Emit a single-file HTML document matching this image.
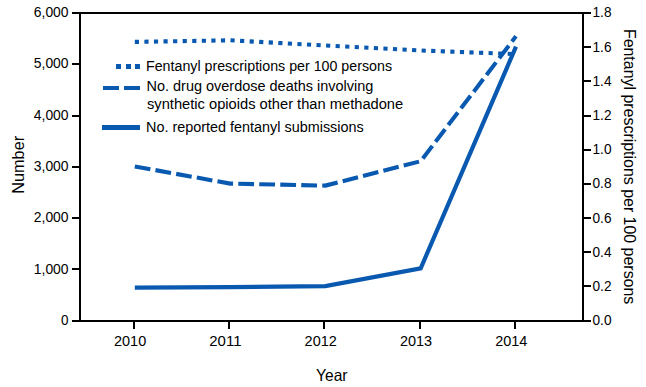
<!DOCTYPE html><html><head><meta charset="utf-8"><style>html,body{margin:0;padding:0;background:#fff;width:646px;height:387px;overflow:hidden}svg{display:block}text{font-family:"Liberation Sans",sans-serif;fill:#000}</style></head><body>
<svg width="646" height="387" viewBox="0 0 646 387">
<g fill="#000">
<rect x="72" y="12" width="519" height="2"/>
<rect x="72" y="320" width="519" height="2"/>
<rect x="79" y="12" width="2" height="310"/>
<rect x="582" y="12" width="2" height="310"/>
<rect x="72" y="320" width="7" height="2"/>
<rect x="72" y="268" width="7" height="2"/>
<rect x="72" y="217" width="7" height="2"/>
<rect x="72" y="166" width="7" height="2"/>
<rect x="72" y="115" width="7" height="2"/>
<rect x="72" y="63" width="7" height="2"/>
<rect x="72" y="12" width="7" height="2"/>
<rect x="584" y="320" width="7" height="2"/>
<rect x="584" y="285" width="7" height="2"/>
<rect x="584" y="251" width="7" height="2"/>
<rect x="584" y="217" width="7" height="2"/>
<rect x="584" y="183" width="7" height="2"/>
<rect x="584" y="149" width="7" height="2"/>
<rect x="584" y="115" width="7" height="2"/>
<rect x="584" y="80" width="7" height="2"/>
<rect x="584" y="46" width="7" height="2"/>
<rect x="584" y="12" width="7" height="2"/>
<rect x="133" y="322" width="2" height="7"/>
<rect x="228" y="322" width="2" height="7"/>
<rect x="323" y="322" width="2" height="7"/>
<rect x="419" y="322" width="2" height="7"/>
<rect x="514" y="322" width="2" height="7"/>
</g>
<text x="68.6" y="325" font-size="14" text-anchor="end" textLength="7.5" lengthAdjust="spacingAndGlyphs">0</text>
<text x="68.6" y="274" font-size="14" text-anchor="end" textLength="34.8" lengthAdjust="spacingAndGlyphs">1,000</text>
<text x="68.6" y="222" font-size="14" text-anchor="end" textLength="34.8" lengthAdjust="spacingAndGlyphs">2,000</text>
<text x="68.6" y="171" font-size="14" text-anchor="end" textLength="34.8" lengthAdjust="spacingAndGlyphs">3,000</text>
<text x="68.6" y="120" font-size="14" text-anchor="end" textLength="34.8" lengthAdjust="spacingAndGlyphs">4,000</text>
<text x="68.6" y="68" font-size="14" text-anchor="end" textLength="34.8" lengthAdjust="spacingAndGlyphs">5,000</text>
<text x="68.6" y="17" font-size="14" text-anchor="end" textLength="34.8" lengthAdjust="spacingAndGlyphs">6,000</text>
<text x="592.5" y="325" font-size="14" textLength="19" lengthAdjust="spacingAndGlyphs">0.0</text>
<text x="592.5" y="291" font-size="14" textLength="19" lengthAdjust="spacingAndGlyphs">0.2</text>
<text x="592.5" y="257" font-size="14" textLength="19" lengthAdjust="spacingAndGlyphs">0.4</text>
<text x="592.5" y="223" font-size="14" textLength="19" lengthAdjust="spacingAndGlyphs">0.6</text>
<text x="592.5" y="188" font-size="14" textLength="19" lengthAdjust="spacingAndGlyphs">0.8</text>
<text x="592.5" y="154" font-size="14" textLength="19" lengthAdjust="spacingAndGlyphs">1.0</text>
<text x="592.5" y="120" font-size="14" textLength="19" lengthAdjust="spacingAndGlyphs">1.2</text>
<text x="592.5" y="86" font-size="14" textLength="19" lengthAdjust="spacingAndGlyphs">1.4</text>
<text x="592.5" y="52" font-size="14" textLength="19" lengthAdjust="spacingAndGlyphs">1.6</text>
<text x="592.5" y="17" font-size="14" textLength="19" lengthAdjust="spacingAndGlyphs">1.8</text>
<text x="130.1" y="346" font-size="14" text-anchor="middle" textLength="32.2" lengthAdjust="spacingAndGlyphs">2010</text>
<text x="225.4" y="346" font-size="14" text-anchor="middle" textLength="32.2" lengthAdjust="spacingAndGlyphs">2011</text>
<text x="320.7" y="346" font-size="14" text-anchor="middle" textLength="32.2" lengthAdjust="spacingAndGlyphs">2012</text>
<text x="416.0" y="346" font-size="14" text-anchor="middle" textLength="32.2" lengthAdjust="spacingAndGlyphs">2013</text>
<text x="511.3" y="346" font-size="14" text-anchor="middle" textLength="32.2" lengthAdjust="spacingAndGlyphs">2014</text>
<text x="316" y="380.9" font-size="16.5" textLength="31.5" lengthAdjust="spacingAndGlyphs">Year</text>
<text transform="translate(24.1,193.75) rotate(-90)" x="0" y="0" font-size="16.5" textLength="57.9" lengthAdjust="spacingAndGlyphs">Number</text>
<text transform="translate(623.8,28.9) rotate(90)" x="0" y="0" font-size="16.5" textLength="275.4" lengthAdjust="spacingAndGlyphs">Fentanyl prescriptions per 100 persons</text>
<text x="146" y="71" font-size="15.5" textLength="246.0" lengthAdjust="spacingAndGlyphs">Fentanyl prescriptions per 100 persons</text>
<text x="146.5" y="91.2" font-size="15.5" textLength="226.8" lengthAdjust="spacingAndGlyphs">No. drug overdose deaths involving</text>
<text x="147" y="108.6" font-size="15.5" textLength="256.2" lengthAdjust="spacingAndGlyphs">synthetic opioids other than methadone</text>
<text x="146" y="132" font-size="15.5" textLength="217.7" lengthAdjust="spacingAndGlyphs">No. reported fentanyl submissions</text>
<g fill="#0a59b0">
<rect x="116" y="64" width="5" height="5"/>
<rect x="126" y="64" width="5" height="5"/>
<rect x="135" y="64" width="5" height="5"/>
<rect x="103" y="86" width="16" height="4"/><rect x="124" y="86" width="16" height="4"/>
<rect x="102" y="125" width="38" height="5"/>
</g>
<g fill="none" stroke="#0a59b0" stroke-linejoin="miter" stroke-miterlimit="10">
<polyline points="134.8,41.9 230.1,40.3 325.4,45.5 420.7,50.5 516.0,54.1" stroke-width="4.1" stroke-dasharray="4.2 5.37"/>
<polyline points="134.8,166.4 230.1,183.6 325.4,185.6 420.7,161.2 516.0,36.2" stroke-width="4.1" stroke-dasharray="15.8 5.2"/>
<polyline points="134.8,287.7 230.1,287.1 325.4,286.1 420.7,268.3 516.0,46.6" stroke-width="4.2"/>
</g>
</svg></body></html>
